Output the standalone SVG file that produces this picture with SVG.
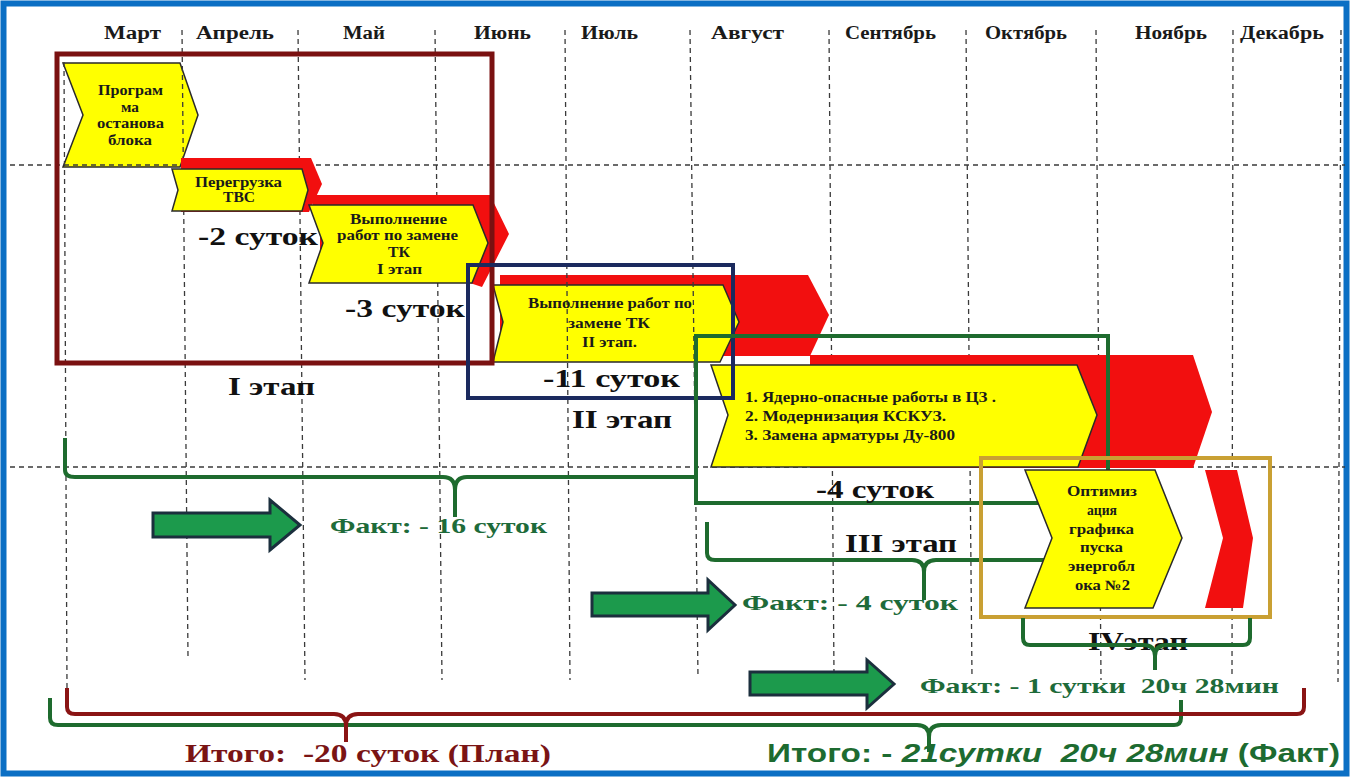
<svg xmlns="http://www.w3.org/2000/svg" width="1350" height="777" viewBox="0 0 1350 777">
<style>
.y{fill:#FFFF00;stroke:#2a2a2a;stroke-width:1.5;stroke-linejoin:miter}
.r{fill:#F20F0F}
.grid{stroke:#3a3a3a;stroke-width:1.3;stroke-dasharray:5 4;fill:none}
.mon{font-family:"Liberation Serif",serif;font-weight:bold;font-size:18px;fill:#1a1a1a}
.lbl{font-family:"Liberation Serif",serif;font-weight:bold;font-size:14px;fill:#1a1a1a}
.big{font-family:"Liberation Serif",serif;font-weight:bold;font-size:26px;fill:#111}
.fact{font-family:"Liberation Serif",serif;font-weight:bold;font-size:22px;fill:#1e6b3a}
.arr{fill:#1c9a4c;stroke:#1b2f3d;stroke-width:3;stroke-linejoin:miter}
.brg{fill:none;stroke:#1e6b2e;stroke-width:4;stroke-linejoin:round}
.brr{fill:none;stroke:#8a1414;stroke-width:4;stroke-linejoin:round}
.box{fill:none}
</style>
<rect x="0" y="0" width="1350" height="777" fill="#ffffff"/>
<rect x="3.5" y="3.5" width="1343" height="770" fill="#ffffff" stroke="#0b6fc4" stroke-width="6"/>

<g id="months">
<text class="mon" x="104" y="39" textLength="57" lengthAdjust="spacingAndGlyphs">Март</text>
<text class="mon" x="196" y="39" textLength="78" lengthAdjust="spacingAndGlyphs">Апрель</text>
<text class="mon" x="343" y="39" textLength="42" lengthAdjust="spacingAndGlyphs">Май</text>
<text class="mon" x="474" y="39" textLength="57" lengthAdjust="spacingAndGlyphs">Июнь</text>
<text class="mon" x="581" y="39" textLength="57" lengthAdjust="spacingAndGlyphs">Июль</text>
<text class="mon" x="711" y="39" textLength="73" lengthAdjust="spacingAndGlyphs">Август</text>
<text class="mon" x="845" y="39" textLength="91" lengthAdjust="spacingAndGlyphs">Сентябрь</text>
<text class="mon" x="985" y="39" textLength="82" lengthAdjust="spacingAndGlyphs">Октябрь</text>
<text class="mon" x="1135" y="39" textLength="72" lengthAdjust="spacingAndGlyphs">Ноябрь</text>
<text class="mon" x="1240" y="39" textLength="84" lengthAdjust="spacingAndGlyphs">Декабрь</text>
</g>

<g id="node-prog">
<polygon class="y" points="63,63 180,63 198,115 180,167 63,167 83,115"/>
</g>
<g id="node-tk2-back">
<polygon class="r" points="500,275 808,275 829,315 810,356 500,356"/>
<polygon class="y" points="493,285 723,285 739,322 720,362 493,362 503,322"/>
</g>

<g id="grid">
<line class="grid" x1="64" y1="62" x2="67" y2="688"/>
<line class="grid" x1="182" y1="30" x2="188" y2="657"/>
<line class="grid" x1="298" y1="30" x2="305" y2="680"/>
<line class="grid" x1="435" y1="30" x2="442" y2="680"/>
<line class="grid" x1="565" y1="30" x2="570" y2="680"/>
<line class="grid" x1="690" y1="30" x2="698" y2="678"/>
<line class="grid" x1="829" y1="30" x2="834" y2="675"/>
<line class="grid" x1="966" y1="30" x2="972" y2="678"/>
<line class="grid" x1="1096" y1="30" x2="1101" y2="680"/>
<line class="grid" x1="1233" y1="30" x2="1232" y2="675"/>
<line class="grid" x1="1341" y1="30" x2="1338" y2="682"/>
<line class="grid" x1="10" y1="165" x2="1345" y2="165"/>
<line class="grid" x1="10" y1="467" x2="1345" y2="467"/>
</g>

<g id="node-tvs">
<polygon class="r" points="181,158 311,158 322,184 309,212 181,212"/>
<polygon class="y" points="172,169 302,169 308,190 302,211 172,211 178,190"/>
</g>
<g id="node-tk1">
<polygon class="r" points="313,195 490,195 509,234 482,287 470,283 320,283 320,210 313,205"/>
<polygon class="y" points="309,205 473,205 488,243 472,283 309,283 323,243"/>
</g>
<g id="node-stage3">
<polygon class="r" points="810,355 1193,355 1212,412 1193,468 810,468"/>
<polygon class="y" points="711,365 1077,365 1097,415 1078,467 711,467 728,415"/>
</g>

<g id="boxes">
<rect class="box" x="57" y="54" width="435" height="309" stroke="#7a1111" stroke-width="5"/>
<rect class="box" x="468" y="265" width="265" height="133" stroke="#1b2a5e" stroke-width="4"/>
<rect class="box" x="696" y="336" width="412" height="167" stroke="#1e6b2e" stroke-width="4"/>
</g>

<g id="labels-chevrons">
<text class="lbl" x="98" y="95" textLength="65" lengthAdjust="spacingAndGlyphs">Програм</text>
<text class="lbl" x="121" y="112" textLength="18" lengthAdjust="spacingAndGlyphs">ма</text>
<text class="lbl" x="97" y="128" textLength="67" lengthAdjust="spacingAndGlyphs">останова</text>
<text class="lbl" x="108" y="145" textLength="44" lengthAdjust="spacingAndGlyphs">блока</text>
<text class="lbl" x="195" y="187" textLength="87" lengthAdjust="spacingAndGlyphs">Перегрузка</text>
<text class="lbl" x="223" y="202" textLength="32" lengthAdjust="spacingAndGlyphs">ТВС</text>
<text class="lbl" x="350" y="224" textLength="97" lengthAdjust="spacingAndGlyphs">Выполнение</text>
<text class="lbl" x="337" y="240" textLength="121" lengthAdjust="spacingAndGlyphs">работ по замене</text>
<text class="lbl" x="388" y="257" textLength="22" lengthAdjust="spacingAndGlyphs">ТК</text>
<text class="lbl" x="377" y="274" textLength="45" lengthAdjust="spacingAndGlyphs">I этап</text>
<text class="lbl" x="528" y="308" textLength="164" lengthAdjust="spacingAndGlyphs">Выполнение работ по</text>
<text class="lbl" x="568" y="328" textLength="82" lengthAdjust="spacingAndGlyphs">замене ТК</text>
<text class="lbl" x="582" y="347" textLength="55" lengthAdjust="spacingAndGlyphs">II этап.</text>
<text class="lbl" x="745" y="402" textLength="251" lengthAdjust="spacingAndGlyphs">1. Ядерно-опасные работы в ЦЗ .</text>
<text class="lbl" x="745" y="421" textLength="201" lengthAdjust="spacingAndGlyphs">2.  Модернизация КСКУЗ.</text>
<text class="lbl" x="745" y="440" textLength="210" lengthAdjust="spacingAndGlyphs">3.  Замена арматуры Ду-800</text>
</g>

<g id="stage-texts">
<text class="big" x="198" y="245" textLength="120" lengthAdjust="spacingAndGlyphs">-2 суток</text>
<text class="big" x="345" y="317" textLength="120" lengthAdjust="spacingAndGlyphs">-3 суток</text>
<text class="big" x="228" y="395" textLength="87" lengthAdjust="spacingAndGlyphs">I этап</text>
<text class="big" x="543" y="387" textLength="137" lengthAdjust="spacingAndGlyphs">-11 суток</text>
<text class="big" x="572" y="428" textLength="100" lengthAdjust="spacingAndGlyphs">II этап</text>
<text class="big" x="816" y="498" textLength="118" lengthAdjust="spacingAndGlyphs">-4 суток</text>
<text class="big" x="845" y="552" textLength="112" lengthAdjust="spacingAndGlyphs">III этап</text>
</g>

<g id="braces-upper">
<path class="brg" d="M65,438 L65,470 Q65,477 75,477 L443,477 Q455,477 455,490 L455,517 M455,490 Q455,477 467,477 L697,477"/>
<path class="brg" d="M707,522 L707,553 Q707,560 715,560 L912,560 Q924,560 924,572 L924,600 M924,572 Q924,560 936,560 L1045,560"/>
</g>

<g id="node-optim">
<polygon class="y" points="1025,470 1155,470 1182,538 1153,608 1025,608 1052,538"/>
<polygon class="r" points="1205,470 1237,470 1253,538 1243,608 1205,608 1223,538"/>
<text class="lbl" x="1067" y="496" textLength="70" lengthAdjust="spacingAndGlyphs">Оптимиз</text>
<text class="lbl" x="1087" y="515" textLength="30" lengthAdjust="spacingAndGlyphs">ация</text>
<text class="lbl" x="1069" y="534" textLength="65" lengthAdjust="spacingAndGlyphs">графика</text>
<text class="lbl" x="1080" y="552" textLength="43" lengthAdjust="spacingAndGlyphs">пуска</text>
<text class="lbl" x="1068" y="571" textLength="67" lengthAdjust="spacingAndGlyphs">энергобл</text>
<text class="lbl" x="1075" y="590" textLength="55" lengthAdjust="spacingAndGlyphs">ока №2</text>
</g>

<g id="box4">
<rect class="box" x="981" y="458" width="289" height="159" stroke="#c9a033" stroke-width="4"/>
</g>

<text class="big" x="1088" y="650" textLength="100" lengthAdjust="spacingAndGlyphs">IVэтап</text>

<g id="connectors">
<path class="brg" d="M1023,618 L1023,638 Q1023,645 1030,645 L1143,645 Q1155,645 1155,656 L1155,670 M1155,656 Q1155,645 1167,645 L1243,645 Q1250,645 1250,638 L1250,618"/>
<path class="brg" d="M50,698 L50,718 Q50,725 58,725 L917,725 Q929,725 929,737 L929,752 M929,737 Q929,725 941,725 L1174,725 Q1181,725 1181,718 L1181,700"/>
<path class="brr" d="M67,688 L67,707 Q67,714 75,714 L334,714 Q346,714 346,726 L346,742 M346,726 Q346,714 358,714 L1297,714 Q1304,714 1304,707 L1304,688"/>
</g>

<g id="arrows">
<polygon class="arr" points="153,513 270,513 270,500 300,525 270,550 270,537 153,537"/>
<polygon class="arr" points="592,593 708,593 708,580 735,605 708,630 708,616 592,616"/>
<polygon class="arr" points="750,672 867,672 867,660 894,684 867,708 867,695 750,695"/>
</g>

<g id="fact-texts">
<text class="fact" x="330" y="533" textLength="217" lengthAdjust="spacingAndGlyphs">Факт: - 16 суток</text>
<text class="fact" x="742" y="610" textLength="216" lengthAdjust="spacingAndGlyphs">Факт: - 4 суток</text>
<text class="fact" x="920" y="693" textLength="359" lengthAdjust="spacingAndGlyphs" xml:space="preserve">Факт: - 1 сутки  20ч 28мин</text>
</g>

<g id="totals">
<text x="185" y="762" textLength="366" lengthAdjust="spacingAndGlyphs" xml:space="preserve" style="font-family:'Liberation Serif',serif;font-weight:bold;font-size:25px;fill:#7a1414">Итого:  -20 суток (План)</text>
<text x="767" y="762" textLength="573" lengthAdjust="spacingAndGlyphs" xml:space="preserve" style="font-family:'Liberation Sans',Arial,sans-serif;font-weight:bold;font-size:25px;fill:#1d6b30">Итого: - <tspan font-style="italic">21сутки  20ч 28мин</tspan> (Факт)</text>
</g>
</svg>
